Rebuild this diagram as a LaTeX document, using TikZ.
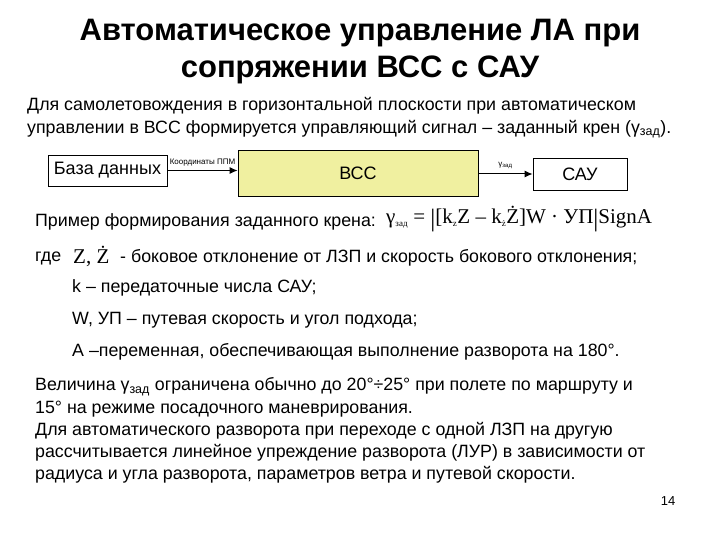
\documentclass[tikz,border=0pt]{standalone}
\usepackage{fontspec}
\setmainfont{Liberation Sans}
\newfontfamily\tms{Liberation Serif}
\usetikzlibrary{arrows.meta}
\newcommand{\bigbar}{\raisebox{-0.12em}{\fontsize{25}{25}\selectfont|}}
\begin{document}
\begin{tikzpicture}[x=1pt,y=-1pt,
  blk/.style={draw,line width=0.8pt,font=\fontsize{18}{20}\selectfont,inner sep=0pt},
  conn/.style={line width=1pt,-{Latex[length=8pt,width=7pt]}},
  tx/.style={anchor=west,inner sep=0pt,font=\fontsize{17.8}{20}\selectfont}]
\path[use as bounding box] (0,0) rectangle (720,540);
\node[font=\bfseries\fontsize{31}{37}\selectfont,align=center] (title) at (360,52) {Автоматическое управление ЛА при\\сопряжении ВСС с САУ};
\node[tx] (p1) at (27,106) {Для самолетовождения в горизонтальной плоскости при автоматическом};
\node[tx] (p2) at (27,129) {управлении в ВСС формируется управляющий сигнал – заданный крен (γ\textsubscript{зад}).};
\node[blk,minimum width=119pt,minimum height=31pt] (db) at (107.5,170.5) {База данных};
\node[blk,fill={rgb,255:red,240;green,240;blue,160},minimum width=240pt,minimum height=46pt] (vss) at (358,173) {ВСС};
\node[blk,minimum width=94pt,minimum height=32pt] (sau) at (580,174) {САУ};
\draw[conn] (db.east) -- node[above=1pt,font=\fontsize{8}{9}\selectfont]{Координаты ППМ} (vss.west|-db.east);
\draw[conn] (vss.east|-sau.west) -- node[above=1pt,font=\fontsize{8}{9}\selectfont]{γ\textsubscript{зад}} (sau.west);
\node[tx] (ex) at (35,222) {Пример формирования заданного крена:};
\node[anchor=west,inner sep=0pt,font=\tms\fontsize{21}{24}\selectfont] (f) at (386,219) {γ\textsubscript{\fontsize{9}{9}\selectfont зад} = \bigbar[k\textsubscript{\fontsize{9}{9}\selectfont z}Z – k\textsubscript{\fontsize{9}{9}\selectfont ż}Ż]W · УП\bigbar SignA};
\node[tx] (g) at (35,258) {где};
\node[anchor=west,inner sep=0pt,font=\tms\fontsize{21}{24}\selectfont] (zz) at (73,256) {Z, Ż};
\node[tx] (d1) at (120,258) {- боковое отклонение от ЛЗП и скорость бокового отклонения;};
\node[tx] (d2) at (72,288) {k – передаточные числа САУ;};
\node[tx] (d3) at (72,320) {W, УП – путевая скорость и угол подхода;};
\node[tx] (d4) at (72,352) {А –переменная, обеспечивающая выполнение разворота на 180°.};
\node[tx] (q1) at (35,387) {Величина γ\textsubscript{зад} ограничена обычно до 20°÷25° при полете по маршруту и};
\node[tx] (q2) at (35,409) {15° на режиме посадочного маневрирования.};
\node[tx] (q3) at (35,431) {Для автоматического разворота при переходе с одной ЛЗП на другую};
\node[tx] (q4) at (35,453) {рассчитывается линейное упреждение разворота (ЛУР) в зависимости от};
\node[tx] (q5) at (35,475) {радиуса и угла разворота, параметров ветра и путевой скорости.};
\node[font=\fontsize{13}{14}\selectfont] (pg) at (668,501) {14};
\end{tikzpicture}
\end{document}
